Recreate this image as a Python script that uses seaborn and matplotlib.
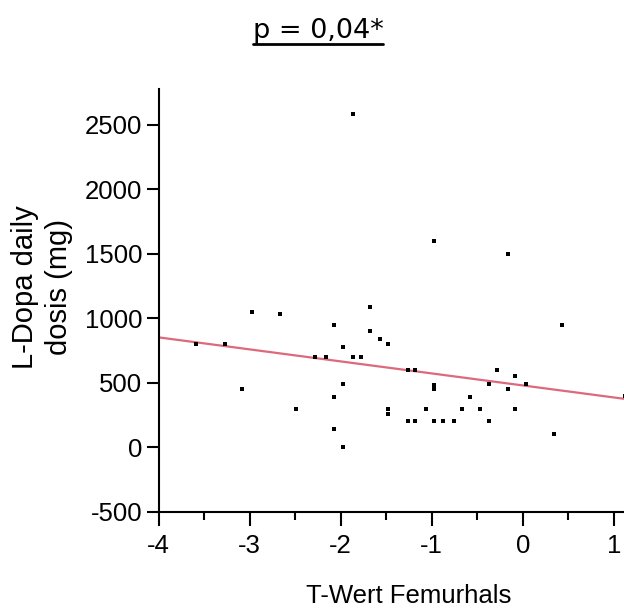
import matplotlib
matplotlib.use("Agg")
import matplotlib.pyplot as plt
from matplotlib.lines import Line2D
from matplotlib.ticker import MultipleLocator
import seaborn as sns
import pandas as pd

# ---- data ----
t_wert = [-2.97, -2.67, -2.075, -1.68, -3.59, -3.27, -1.98, -1.68, -1.57, -1.485,
          -2.28, -2.16, -1.87, -1.78, -3.08, -1.98, -2.075, -2.49, -1.485, -1.485,
          -2.075, -1.98, -1.87, -0.97, -0.165, 0.43, -1.265, -1.18, -0.97, -0.97,
          -0.28, -0.08, -0.37, 0.04, -0.165, -0.58, -1.06, -0.67, -0.465, -0.08,
          -1.265, -1.18, -0.97, -0.88, -0.76, -0.37, 0.34, 1.12]
ldopa = [1050, 1030, 950, 1090, 800, 800, 780, 900, 840, 800,
         700, 700, 700, 700, 450, 490, 390, 295, 300, 260,
         140, 0, 2580, 1600, 1500, 950, 600, 600, 480, 450,
         600, 550, 490, 490, 450, 390, 300, 300, 300, 300,
         200, 200, 200, 200, 200, 200, 100, 400]
x_ticks = [-4, -3, -2, -1, 0, 1]
y_ticks = [-500, 0, 500, 1000, 1500, 2000, 2500]
title_text = "p = 0,04*"
x_label = "T-Wert Femurhals"
y_label = "L-Dopa daily\ndosis (mg)"

df = pd.DataFrame({"T": t_wert, "LD": ldopa})

sns.set_theme(style="white")
fam = ["Liberation Sans", "DejaVu Sans"]
plt.rcParams["font.family"] = fam
plt.rcParams["text.color"] = "black"
plt.rcParams["xtick.color"] = "black"
plt.rcParams["ytick.color"] = "black"
plt.rcParams["axes.labelcolor"] = "black"

fig = plt.figure(figsize=(6.24, 6.10), dpi=100)
W, H = 624, 610
ax_left, ax_right, ax_bottom, ax_top = 158.7, 659.3, 511.7, 89
ax = fig.add_axes([ax_left / W, 1 - ax_bottom / H,
                   (ax_right - ax_left) / W, (ax_bottom - ax_top) / H])
ax.set_xlim(-4, 1.5)
ax.set_ylim(-500, 2777)

sns.regplot(data=df, x="T", y="LD", scatter=False, ci=None, truncate=False,
            line_kws=dict(color="#dc6a7c", lw=1.6), ax=ax)
sns.scatterplot(data=df, x="T", y="LD", marker="s", s=11, color="black",
                linewidth=0, ax=ax, zorder=3)
ax.set_xlim(-4, 1.5)
ax.set_ylim(-500, 2777)

for s in ["top", "right"]:
    ax.spines[s].set_visible(False)
for s in ["left", "bottom"]:
    ax.spines[s].set_linewidth(1.5)
    ax.spines[s].set_color("black")

ax.set_xticks(x_ticks)
ax.set_yticks(y_ticks)
ax.xaxis.set_minor_locator(MultipleLocator(0.5))
ax.tick_params(axis="x", which="major", direction="out", length=10, width=1.5,
               color="black", labelcolor="black", labelsize=18.5, pad=6, bottom=True)
ax.tick_params(axis="x", which="minor", direction="out", length=6, width=1.5,
               color="black", bottom=True)
ax.tick_params(axis="y", which="major", direction="out", length=9, width=1.5,
               color="black", labelcolor="black", labelsize=18.5, pad=3, left=True)
ax.set_xticklabels([str(v) for v in x_ticks])
ax.set_yticklabels([str(v) for v in y_ticks])
ax.set_xlabel("")
ax.set_ylabel("")
ax.grid(False)

fig.text(409 / W, 1 - 596 / H, x_label, ha="center", va="center",
         fontsize=18.5, color="black")
fig.text(42 / W, 1 - 287 / H, y_label, ha="center", va="center",
         rotation=90, multialignment="center", fontsize=21, color="black",
         linespacing=1.3)

t = fig.text(318 / W, 1 - 31 / H, title_text, ha="center", va="center",
             fontsize=19.5, family=["DejaVu Sans"], color="black")
fig.canvas.draw()
bb = t.get_window_extent()
uy = 1 - 43.5 / H
fig.add_artist(Line2D([bb.x0 / W, bb.x1 / W], [uy, uy], color="black",
                      lw=2.0, transform=fig.transFigure))

fig.savefig("out.png", dpi=100)
